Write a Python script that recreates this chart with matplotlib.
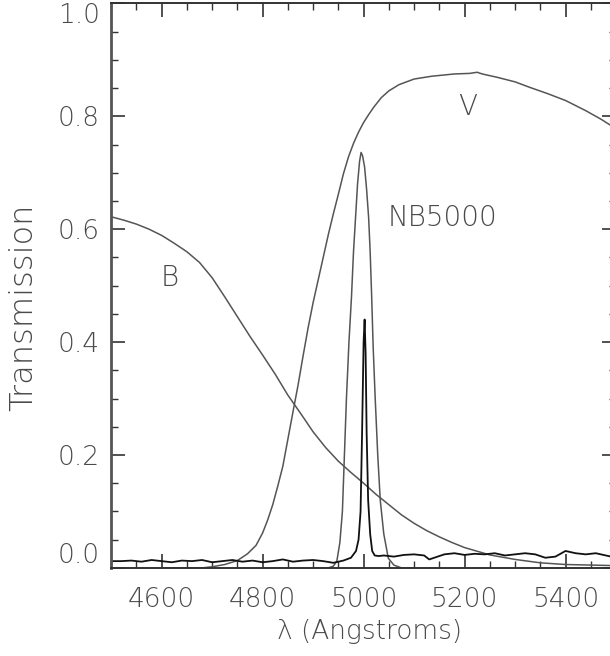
import matplotlib
matplotlib.use("Agg")
import matplotlib.pyplot as plt
from matplotlib.ticker import MultipleLocator

# ---- data ----
b_wave = [4500, 4525, 4550, 4575, 4600, 4625, 4650, 4675, 4700, 4725, 4750, 4775,
          4800, 4825, 4850, 4875, 4900, 4925, 4950, 4975, 5000, 5025, 5050, 5075,
          5100, 5125, 5150, 5175, 5200, 5250, 5300, 5350, 5400, 5450, 5500]
b_trans = [0.622, 0.616, 0.609, 0.600, 0.589, 0.575, 0.560, 0.541, 0.514, 0.480,
           0.445, 0.410, 0.377, 0.343, 0.306, 0.274, 0.241, 0.213, 0.189, 0.169,
           0.150, 0.130, 0.112, 0.094, 0.079, 0.066, 0.055, 0.045, 0.036, 0.023,
           0.015, 0.009, 0.006, 0.005, 0.004]

v_wave = [4600, 4650, 4680, 4700, 4725, 4750, 4770, 4787, 4800, 4810, 4820, 4830,
          4840, 4850, 4860, 4870, 4880, 4890, 4900, 4910, 4920, 4930, 4940, 4950,
          4960, 4970, 4980, 4990, 5000, 5010, 5020, 5035, 5050, 5070, 5100, 5135,
          5180, 5210, 5225, 5235, 5265, 5300, 5330, 5365, 5400, 5440, 5470, 5500]
v_trans = [0.0, 0.0, 0.0, 0.002, 0.006, 0.013, 0.025, 0.040, 0.062, 0.085, 0.112,
           0.145, 0.180, 0.228, 0.276, 0.323, 0.375, 0.425, 0.470, 0.510, 0.550,
           0.590, 0.627, 0.662, 0.698, 0.728, 0.752, 0.772, 0.789, 0.803, 0.816,
           0.833, 0.845, 0.856, 0.866, 0.871, 0.875, 0.876, 0.878, 0.875, 0.869,
           0.861, 0.851, 0.840, 0.828, 0.810, 0.795, 0.778]

nb_wave = [4900, 4930, 4940, 4947, 4953, 4958, 4962, 4966, 4971, 4976, 4980, 4984,
           4988, 4992, 4995, 4998, 5002, 5006, 5010, 5013, 5016, 5019, 5023, 5028,
           5033, 5040, 5049, 5060, 5075, 5100]
nb_trans = [0.0, 0.0, 0.003, 0.012, 0.045, 0.100, 0.200, 0.300, 0.400, 0.480,
            0.560, 0.620, 0.680, 0.720, 0.736, 0.730, 0.710, 0.670, 0.620, 0.560,
            0.480, 0.390, 0.300, 0.200, 0.120, 0.060, 0.017, 0.005, 0.0, 0.0]

nar_wave = [4500, 4520, 4540, 4560, 4580, 4600, 4620, 4640, 4660, 4680, 4700, 4720,
            4740, 4760, 4780, 4800, 4820, 4840, 4860, 4880, 4900, 4920, 4940, 4960,
            4975, 4985, 4990, 4994, 4997, 5000, 5002, 5004, 5006, 5009, 5013, 5017,
            5022, 5030, 5040, 5060, 5080, 5100, 5120, 5130, 5140, 5160, 5180, 5200,
            5220, 5240, 5260, 5280, 5300, 5320, 5340, 5360, 5380, 5400, 5420, 5440,
            5460, 5480, 5500]
nar_trans = [0.012, 0.012, 0.013, 0.011, 0.014, 0.012, 0.010, 0.013, 0.012, 0.014,
             0.010, 0.012, 0.014, 0.011, 0.013, 0.010, 0.012, 0.015, 0.011, 0.013,
             0.014, 0.012, 0.009, 0.013, 0.018, 0.030, 0.050, 0.100, 0.240, 0.400,
             0.440, 0.380, 0.240, 0.120, 0.060, 0.030, 0.022, 0.021, 0.022, 0.020,
             0.023, 0.024, 0.022, 0.015, 0.018, 0.024, 0.026, 0.023, 0.025, 0.024,
             0.026, 0.022, 0.024, 0.026, 0.024, 0.018, 0.020, 0.030, 0.026, 0.024,
             0.026, 0.022, 0.018]

labels = ["B", "V", "NB5000"]
label_x = [4616, 5207, 5157]
label_y = [0.513, 0.816, 0.620]

x_ticks = [4600, 4800, 5000, 5200, 5400]
y_ticks = [0.0, 0.2, 0.4, 0.6, 0.8, 1.0]

# ---- figure ----
plt.rcParams['font.family'] = ['DejaVu Sans']
txt = '#4a4a4a'
gray = '#555555'
fw = 'light'

fig = plt.figure(figsize=(6.10, 6.56), dpi=100)
ax = fig.add_axes([111.2 / 610, (656 - 567.9) / 656, (616 - 111.2) / 610, (567.9 - 3.4) / 656])

ax.plot(b_wave, b_trans, color=gray, lw=1.1)
ax.plot(v_wave, v_trans, color=gray, lw=1.1)
ax.plot(nb_wave, nb_trans, color=gray, lw=1.1)
ax.plot(nar_wave, nar_trans, color='#111111', lw=1.3)

for s, x, y in zip(labels, label_x, label_y):
    ax.text(x, y, s, color=txt, fontsize=20, ha='center', va='center', fontweight=fw)

ax.set_xlim(4500, 5500)
ax.set_ylim(0.0, 1.0)
ax.set_xticks(x_ticks)
ax.set_xticklabels([str(v) for v in x_ticks], fontweight=fw)
ax.set_yticks(y_ticks)
ax.set_yticklabels([f"{v:.1f}" for v in y_ticks], fontweight=fw)
ax.xaxis.set_minor_locator(MultipleLocator(50))
ax.yaxis.set_minor_locator(MultipleLocator(0.05))
ax.tick_params(which='both', direction='in', top=True, right=True, colors='#333333',
               labelcolor=txt, labelsize=19)
ax.tick_params(which='major', length=10, width=1.2)
ax.tick_params(which='minor', length=5, width=1.0)
ax.tick_params(axis='x', pad=14)
ax.tick_params(axis='y', pad=8)
for sp in ax.spines.values():
    sp.set_color('#333333')
    sp.set_linewidth(1.4)
ax.spines['left'].set_color('#555555')
ax.spines['left'].set_linewidth(2.0)

ylabs = ax.get_yticklabels()
ylabs[0].set_va('bottom')
ylabs[-1].set_va('top')

ax.set_xlabel("λ (Angstroms)", color=txt, fontsize=19, fontweight=fw)
ax.xaxis.set_label_coords((370 - 111.2) / (616 - 111.2), -(632 - 567.9) / (567.9 - 3.4))
ax.xaxis.label.set_va('center')
ax.set_ylabel("Transmission", color=txt, fontsize=23, fontweight=fw)
ax.yaxis.set_label_coords(-(111.2 - 23) / (616 - 111.2), (567.9 - 307) / (567.9 - 3.4))
ax.yaxis.label.set_va('center')

fig.savefig("out.png", dpi=100, facecolor='white')
